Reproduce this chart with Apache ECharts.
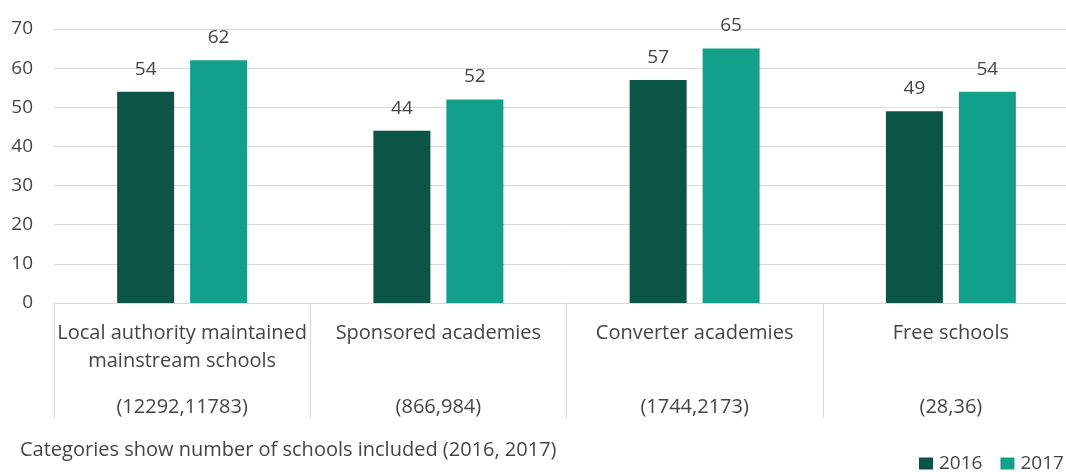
<!DOCTYPE html>
<html>
<head>
<meta charset="utf-8">
<script src="https://cdn.jsdelivr.net/npm/echarts@6/dist/echarts.min.js"></script>
<style>
  html, body { margin: 0; padding: 0; background: #ffffff; }
  #chart { width: 1066px; height: 472px; }
</style>
</head>
<body>
<div id="chart"></div>
<script>
// School types, with the number of schools included each year
const categories = [
  'Local authority maintained\nmainstream schools',
  'Sponsored academies',
  'Converter academies',
  'Free schools'
];
const schoolCounts = ['(12292,11783)', '(866,984)', '(1744,2173)', '(28,36)'];

// Values per school type
const values2016 = [54, 44, 57, 49];
const values2017 = [62, 52, 65, 54];

const yTicks = { min: 0, max: 70, interval: 10 };

const FONT = '"Open Sans", "Noto Sans", sans-serif';
const TEXT = '#454545';
const LINE = '#d9d9d9';

const chart = echarts.init(document.getElementById('chart'), null, { renderer: 'canvas' });

chart.setOption({
  animation: false,
  textStyle: { fontFamily: FONT },
  title: {
    text: 'Categories show number of schools included (2016, 2017)',
    left: 20,
    top: 440,
    padding: 0,
    textStyle: { fontFamily: FONT, fontSize: 20, fontWeight: 'normal', color: TEXT }
  },
  legend: {
    left: 919,
    top: 454,
    padding: 0,
    itemWidth: 14,
    itemHeight: 12,
    itemGap: 18,
    icon: 'rect',
    textStyle: { fontFamily: FONT, fontSize: 19, color: TEXT, padding: [0, 0, 0, 1] },
    data: ['2016', '2017']
  },
  // the plot runs a little past the right edge of the page
  grid: { left: 54, top: 29, right: -13, height: 274, containLabel: false, outerBoundsMode: 'none' },
  xAxis: {
    type: 'category',
    data: categories,
    boundaryGap: true,
    axisLine: { show: true, lineStyle: { color: LINE, width: 1 } },
    axisTick: { show: true, length: 115, interval: 0, lineStyle: { color: LINE, width: 1 } },
    axisLabel: {
      interval: 0,
      margin: 16,
      formatter: function (value, idx) {
        const lines = value.split('\n');
        while (lines.length < 2) lines.push(' ');
        return lines.map(l => '{a|' + l + '}').join('\n') + '\n{s| }\n{a|' + schoolCounts[idx] + '}';
      },
      rich: {
        a: { fontFamily: FONT, fontSize: 20, lineHeight: 28, color: TEXT },
        s: { fontSize: 10, lineHeight: 18 }
      }
    }
  },
  yAxis: {
    type: 'value',
    min: yTicks.min,
    max: yTicks.max,
    interval: yTicks.interval,
    axisLine: { show: false },
    axisTick: { show: false },
    splitLine: { show: true, lineStyle: { color: LINE, width: 1 } },
    axisLabel: { margin: 21, fontFamily: FONT, fontSize: 19, color: TEXT }
  },
  series: [
    {
      name: '2016',
      type: 'bar',
      data: values2016,
      barWidth: 57,
      barGap: '28%',
      itemStyle: { color: '#0b5446' },
      label: { show: true, position: 'top', distance: 13, fontFamily: FONT, fontSize: 19, color: TEXT }
    },
    {
      name: '2017',
      type: 'bar',
      data: values2017,
      barWidth: 57,
      barGap: '28%',
      itemStyle: { color: '#13a08b' },
      label: { show: true, position: 'top', distance: 13, fontFamily: FONT, fontSize: 19, color: TEXT }
    }
  ]
});
</script>
</body>
</html>
